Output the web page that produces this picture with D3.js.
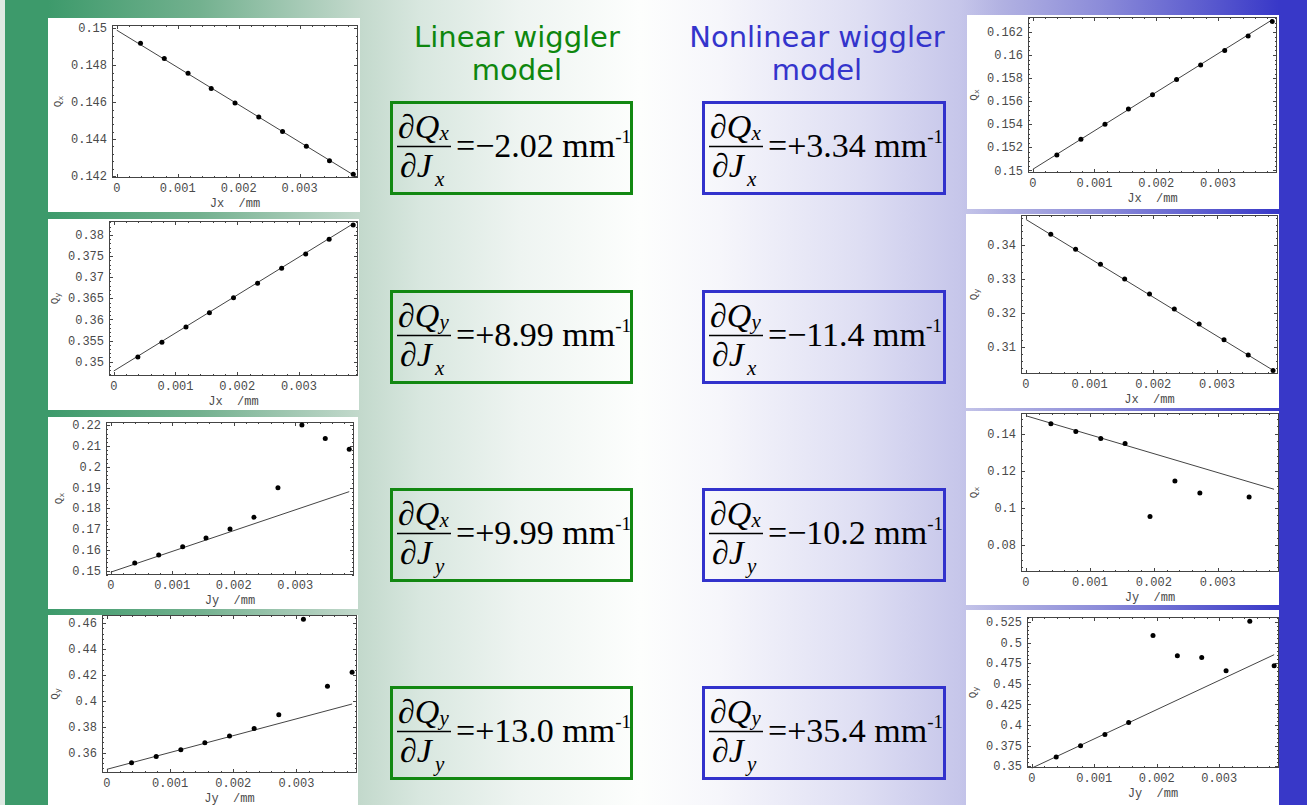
<!DOCTYPE html>
<html>
<head>
<meta charset="utf-8">
<script src="https://cdn.jsdelivr.net/npm/d3@7"></script>
<style>
  html, body { margin: 0; padding: 0; background: #fff; }
  svg { display: block; }
</style>
</head>
<body>
<svg id="slide" width="1307" height="805"></svg>
<script>
// ---------------------------------------------------------------
// Tracking results: tune versus action, linear and nonlinear wiggler
// ---------------------------------------------------------------

// action values of the tracked particles (mm)
const actionJ = [0.00039, 0.00078, 0.00117, 0.00155, 0.00194, 0.00233, 0.00272, 0.00311, 0.00349, 0.00388];

// tracked tunes, linear wiggler model
const linQxVsJx = [0.14919, 0.14837, 0.14757, 0.14674, 0.14596, 0.14519, 0.14441, 0.14361, 0.14283, 0.14209];
const linQyVsJx = [0.35111, 0.35458, 0.35821, 0.36161, 0.36516, 0.36855, 0.37211, 0.37550, 0.37897, 0.38237];
const linQxVsJy = [0.15368, 0.15753, 0.16153, 0.16570, 0.17002, 0.17579, 0.18988, 0.22016, 0.21359, 0.20847];
const linQyVsJy = [0.35229, 0.35717, 0.36231, 0.36771, 0.37285, 0.37877, 0.38931, 0.46308, 0.41141, 0.42221];

// tracked tunes, nonlinear wiggler model (null = outside the plot range)
const nlQxVsJx = [0.15135, 0.15271, 0.15400, 0.15532, 0.15656, 0.15788, 0.15915, 0.16039, 0.16165, 0.16292];
const nlQyVsJx = [0.34313, 0.33873, 0.33433, 0.33003, 0.32563, 0.32124, 0.31684, 0.31225, 0.30775, 0.30316];
const nlQxVsJy = [0.14541, 0.14126, 0.13748, 0.13477, 0.09550, 0.11459, 0.10811, null, 0.10595, null];
const nlQyVsJy = [0.36126, 0.37494, 0.38862, 0.40310, 0.50851, 0.48397, 0.48196, 0.46586, 0.52580, 0.47190];

// fitted detuning coefficients dQ/dJ (mm^-1) and zero-amplitude tunes
const linSlopes = [-2.02, 8.99, 9.99, 13.0];
const nlSlopes = [3.34, -11.4, -10.2, 35.4];
const linIntercepts = [0.1499, 0.3478, 0.1493, 0.3472];
const nlIntercepts = [0.1501, 0.3475, 0.1497, 0.3480];

// plot ranges and tick marks
const xRange = [-0.0000776, 0.0039576];
const xTicks = [0, 0.001, 0.002, 0.003];
const linYRanges = [[0.14189, 0.15018], [0.34661, 0.38332], [0.14793, 0.22159], [0.34435, 0.4664]];
const nlYRanges = [[0.14978, 0.1633], [0.30217, 0.3488], [0.06557, 0.15119], [0.34807, 0.531]];
const linYTicks = [
  [0.142, 0.144, 0.146, 0.148, 0.15],
  [0.35, 0.355, 0.36, 0.365, 0.37, 0.375, 0.38],
  [0.15, 0.16, 0.17, 0.18, 0.19, 0.2, 0.21, 0.22],
  [0.36, 0.38, 0.4, 0.42, 0.44, 0.46]
];
const nlYTicks = [
  [0.15, 0.152, 0.154, 0.156, 0.158, 0.16, 0.162],
  [0.31, 0.32, 0.33, 0.34],
  [0.08, 0.1, 0.12, 0.14],
  [0.35, 0.375, 0.4, 0.425, 0.45, 0.475, 0.5, 0.525]
];

// axis naming: tune plane / action plane for each row
const tunePlanes = ["x", "y", "x", "y"];
const actionPlanes = ["x", "x", "y", "y"];
const columnTitles = [["Linear wiggler", "model"], ["Nonlinear wiggler", "model"]];

// ---------------------------------------------------------------
const svg = d3.select("#slide");
const W = 1307, H = 805;

const greenDark = "#3d9a6b", blueDark = "#3838c8";
const titleGreen = "#0e870e", titleBlue = "#3434cc";

// slide background: green on the left, white centre, blue on the right
const defs = svg.append("defs");
const grad = defs.append("linearGradient")
  .attr("id", "bg").attr("gradientUnits", "userSpaceOnUse")
  .attr("x1", 0).attr("y1", 0).attr("x2", W).attr("y2", 0);
[
  [0, greenDark], [48, greenDark], [200, "#73b18f"], [300, "#a6cab6"],
  [360, "#c3d9cc"], [420, "#d8e7df"], [520, "#eef4f1"], [640, "#fdfefd"],
  [720, "#f6f6fb"], [860, "#dedef3"], [960, "#c6c6ea"], [1000, "#b2b2e2"],
  [1100, "#8c8cd9"], [1200, "#5e5ecf"], [1279, blueDark], [W, blueDark]
].forEach(([x, c]) => grad.append("stop").attr("offset", x / W).attr("stop-color", c));

svg.append("rect").attr("width", W).attr("height", H).attr("fill", "url(#bg)");
svg.append("rect").attr("x", 0).attr("y", 0).attr("width", 5).attr("height", H).attr("fill", "#dfe9e3");
svg.append("rect").attr("x", 5).attr("y", 0).attr("width", 43).attr("height", H).attr("fill", greenDark);
svg.append("rect").attr("x", 1279).attr("y", 0).attr("width", W - 1279).attr("height", H).attr("fill", blueDark);

// page layout of the small plots: white panel and the framed plot area
const panelLayout = [
  [[48, 18, 312, 194], [48, 219, 311, 191], [48, 417, 310, 192], [48, 615, 310, 190]],
  [[967, 15, 312, 194], [966, 214, 313, 194], [966, 411, 313, 194], [966, 610, 313, 195]]
];
const frameLayout = [
  [[112, 25, 358, 178], [109, 221, 358, 376], [106, 422, 354, 575], [102, 615, 357, 773]],
  [[1028, 17, 1277, 173], [1021, 215, 1278, 374], [1021, 413, 1279, 572], [1027, 617, 1279, 768]]
];

const plots = [];
[[linQxVsJx, linQyVsJx, linQxVsJy, linQyVsJy], [nlQxVsJx, nlQyVsJx, nlQxVsJy, nlQyVsJy]].forEach((col, c) => {
  col.forEach((vals, r) => {
    plots.push({
      col: c, row: r, values: vals,
      yRange: (c === 0 ? linYRanges : nlYRanges)[r],
      yTicks: (c === 0 ? linYTicks : nlYTicks)[r],
      slope: (c === 0 ? linSlopes : nlSlopes)[r],
      intercept: (c === 0 ? linIntercepts : nlIntercepts)[r],
      panel: panelLayout[c][r], frame: frameLayout[c][r],
      tune: tunePlanes[r], action: actionPlanes[r]
    });
  });
});

const mono = "'Liberation Mono', 'Courier New', monospace";
const axisInk = "#444";
const labelInk = "#4a4a4a";

function minorTicks(domain, ticks) {
  const step = (ticks[1] - ticks[0]) / 5;
  const out = [];
  for (let k = Math.ceil(domain[0] / step - 1e-9); k * step <= domain[1] + 1e-12; k++) {
    const v = k * step;
    if (!ticks.some(t => Math.abs(t - v) < step * 0.01)) out.push(v);
  }
  return out;
}

plots.forEach(p => {
  const [px, py, pw, ph] = p.panel;
  const [fx0, fy0, fx1, fy1] = p.frame;
  const g = svg.append("g");

  g.append("rect").attr("x", px).attr("y", py).attr("width", pw).attr("height", ph).attr("fill", "#fff");

  const x = d3.scaleLinear().domain(xRange).range([fx0, fx1]);
  const y = d3.scaleLinear().domain(p.yRange).range([fy1, fy0]);

  // frame
  g.append("rect")
    .attr("x", fx0 + 0.5).attr("y", fy0 + 0.5)
    .attr("width", fx1 - fx0 - 1).attr("height", fy1 - fy0 - 1)
    .attr("fill", "none").attr("stroke", axisInk).attr("stroke-width", 1);

  // inward ticks on all four sides
  const tickG = g.append("g").attr("stroke", axisInk).attr("stroke-width", 1);
  const xMinor = minorTicks(xRange, xTicks);
  const yMinor = minorTicks(p.yRange, p.yTicks);
  const xt = xTicks.map(v => [v, 4]).concat(xMinor.map(v => [v, 2]));
  const yt = p.yTicks.map(v => [v, 4]).concat(yMinor.map(v => [v, 2]));
  xt.forEach(([v, len]) => {
    const xx = Math.round(x(v)) + 0.5;
    tickG.append("line").attr("x1", xx).attr("x2", xx).attr("y1", fy1).attr("y2", fy1 - len);
    tickG.append("line").attr("x1", xx).attr("x2", xx).attr("y1", fy0).attr("y2", fy0 + len);
  });
  yt.forEach(([v, len]) => {
    const yy = Math.round(y(v)) + 0.5;
    tickG.append("line").attr("y1", yy).attr("y2", yy).attr("x1", fx0).attr("x2", fx0 + len);
    tickG.append("line").attr("y1", yy).attr("y2", yy).attr("x1", fx1).attr("x2", fx1 - len);
  });

  // tick labels
  g.append("g").selectAll("text").data(xTicks).join("text")
    .attr("x", d => x(d)).attr("y", fy1 + 14)
    .attr("text-anchor", "middle")
    .attr("font-family", mono).attr("font-size", 12).attr("fill", labelInk)
    .text(d => String(d));
  g.append("g").selectAll("text").data(p.yTicks).join("text")
    .attr("x", fx0 - 5).attr("y", d => y(d)).attr("dy", "0.34em")
    .attr("text-anchor", "end")
    .attr("font-family", mono).attr("font-size", 12).attr("fill", labelInk)
    .text(d => String(d));

  // axis labels
  const maxChars = d3.max(p.yTicks, d => String(d).length);
  const ylx = fx0 - 5 - maxChars * 7.2 - 14;
  const yly = (fy0 + fy1) / 2;
  const yl = g.append("text")
    .attr("transform", `translate(${ylx + 4},${yly}) rotate(-90)`)
    .attr("text-anchor", "middle")
    .attr("font-family", mono).attr("font-size", 11).attr("fill", labelInk);
  yl.append("tspan").text("Q");
  yl.append("tspan").attr("font-size", 8).attr("dy", 2).text(p.tune);

  g.append("text")
    .attr("x", (fx0 + fx1) / 2).attr("y", fy1 + 29)
    .attr("text-anchor", "middle").attr("xml:space", "preserve")
    .style("white-space", "pre")
    .attr("font-family", mono).attr("font-size", 12).attr("fill", labelInk)
    .text(`J${p.action}  /mm`);

  // fitted detuning line
  const jEnd = actionJ[actionJ.length - 1];
  g.append("line")
    .attr("x1", x(0)).attr("y1", y(p.intercept))
    .attr("x2", x(jEnd)).attr("y2", y(p.intercept + p.slope * jEnd))
    .attr("stroke", "#444").attr("stroke-width", 1);

  // tracked points
  g.append("g").selectAll("circle")
    .data(actionJ.map((j, i) => [j, p.values[i]]).filter(d => d[1] != null))
    .join("circle")
    .attr("cx", d => x(d[0])).attr("cy", d => y(d[1])).attr("r", 2.5)
    .attr("fill", "#000");
});

// column titles
const titleX = [517, 817];
columnTitles.forEach((lines, c) => {
  const t = svg.append("text")
    .attr("text-anchor", "middle")
    .attr("font-family", "'DejaVu Sans', Verdana, sans-serif")
    .attr("font-size", 29)
    .attr("fill", c === 0 ? titleGreen : titleBlue);
  lines.forEach((s, i) => t.append("tspan").attr("x", titleX[c]).attr("y", 47 + i * 33).text(s));
});

// boxed detuning formulas
const boxX = [390, 702], boxW = [243, 244];
const boxY = [101, 290, 488, 686], boxH = 94;
const fmt = d3.format("+.3r");
const serif = "'Liberation Serif', 'Times New Roman', serif";

[linSlopes, nlSlopes].forEach((slopes, c) => {
  slopes.forEach((s, r) => {
    const bx = boxX[c], by = boxY[r];
    const col = c === 0 ? "#128812" : "#3232cc";
    const g = svg.append("g").attr("font-family", serif).attr("fill", "#000");
    g.append("rect")
      .attr("x", bx + 1.5).attr("y", by + 1.5)
      .attr("width", boxW[c] - 3).attr("height", boxH - 3)
      .attr("fill", "none").attr("stroke", col).attr("stroke-width", 3);

    const num = g.append("text").attr("x", bx + 8).attr("y", by + 37).attr("font-size", 34);
    num.append("tspan").text("\u2202");
    num.append("tspan").attr("font-style", "italic").text("Q");
    num.append("tspan").attr("font-style", "italic").attr("font-size", 21).attr("dy", 2).text(tunePlanes[r]);

    g.append("line")
      .attr("x1", bx + 7).attr("x2", bx + 61)
      .attr("y1", by + 45.5).attr("y2", by + 45.5)
      .attr("stroke", "#000").attr("stroke-width", 1.6);

    const den = g.append("text").attr("x", bx + 10).attr("y", by + 76).attr("font-size", 34);
    den.append("tspan").text("\u2202");
    den.append("tspan").attr("font-style", "italic").text("J");
    den.append("tspan").attr("font-style", "italic").attr("font-size", 21)
      .attr("dx", 3).attr("dy", 9).text(actionPlanes[r]);

    const val = g.append("text").attr("x", bx + 66).attr("y", by + 56).attr("font-size", 34)
      .attr("xml:space", "preserve").style("white-space", "pre");
    val.append("tspan").text("=" + fmt(s) + " mm");
    val.append("tspan").attr("font-size", 19).attr("dy", -14).text("-1");
  });
});
</script>
</body>
</html>
